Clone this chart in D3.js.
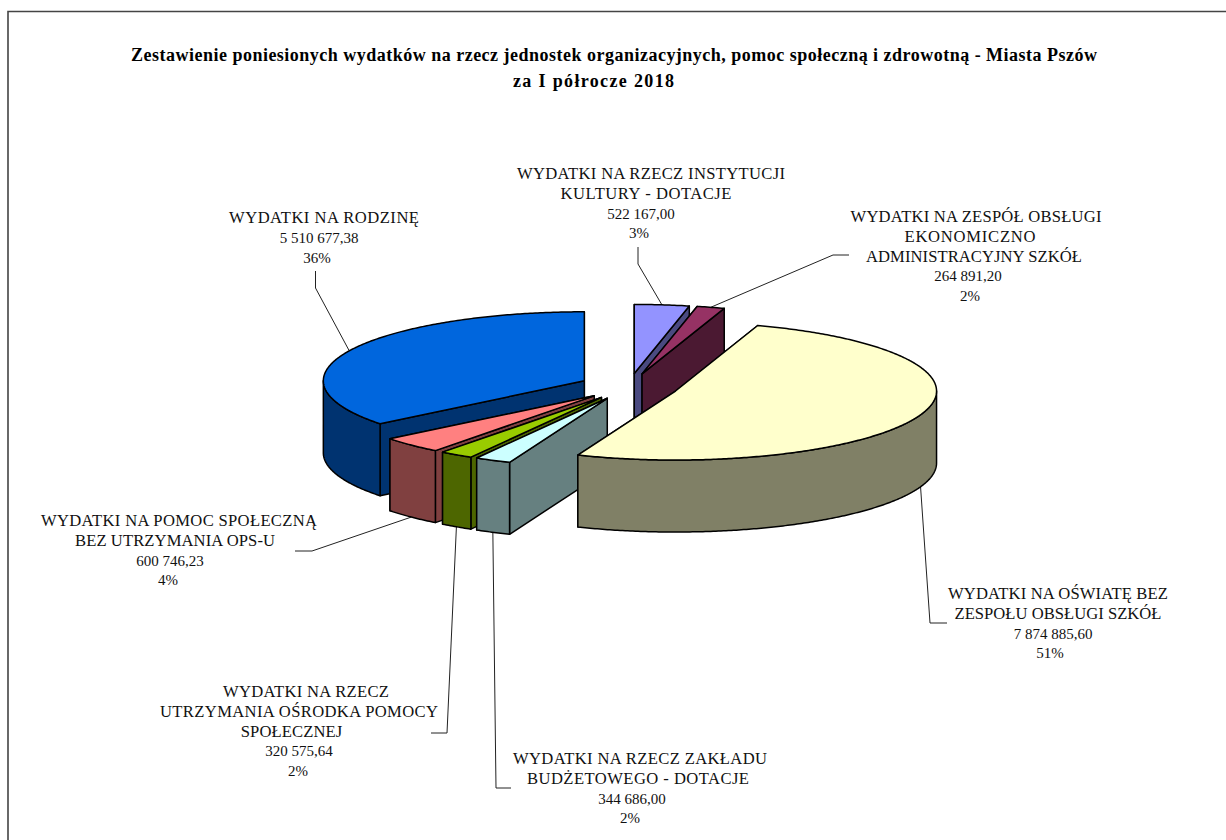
<!DOCTYPE html>
<html><head><meta charset="utf-8">
<script src="https://cdn.jsdelivr.net/npm/d3@7"></script>
<style>html,body{margin:0;padding:0;background:#fff;overflow:hidden}svg{display:block}text{font-family:"Liberation Serif",serif;fill:#111}</style>
</head><body><svg id="c" width="1226" height="840"></svg>
<script>
// --- data ---
const categories = [
  ["WYDATKI NA RZECZ INSTYTUCJI","KULTURY - DOTACJE"],
  ["WYDATKI NA ZESPÓŁ OBSŁUGI","EKONOMICZNO","ADMINISTRACYJNY SZKÓŁ"],
  ["WYDATKI NA OŚWIATĘ BEZ","ZESPOŁU OBSŁUGI SZKÓŁ"],
  ["WYDATKI NA RZECZ ZAKŁADU","BUDŻETOWEGO - DOTACJE"],
  ["WYDATKI NA RZECZ","UTRZYMANIA OŚRODKA POMOCY","SPOŁECZNEJ"],
  ["WYDATKI NA POMOC SPOŁECZNĄ","BEZ UTRZYMANIA OPS-U"],
  ["WYDATKI NA RODZINĘ"]
];
const values = [522167.00, 264891.20, 7874885.60, 344686.00, 320575.64, 600746.23, 5510677.38];
const titleLines = ["Zestawienie poniesionych wydatków na rzecz jednostek organizacyjnych, pomoc społeczną i zdrowotną - Miasta Pszów","za I półrocze 2018"];

// --- style ---
const topColors  = ["#9393FF","#963264","#FFFFCC","#CCFFFF","#99CC00","#FF8080","#0066DD"];
const sideColors = ["#4A4A80","#4B1932","#808066","#668080","#4D6600","#804040","#003370"];

// --- layout ---
const W = 1226, H = 840;
const center = {x:629, y:386.5}, rx = 261, ry = 69, depth = 72, explode = 0.19;
// per-slice leader: elbow and tail; per-slice label: first baseline, centre of each line, width of the name lines
const leaderElbow = [[638,264],[833,255],[930,623],[496,788],[447,733],[312,551],[315.5,288]];
const leaderEnd   = [[638,247],[849,255],[947,623],[511,788],[431,733],[295,551],[315.5,271]];
const labelTop    = [179,222,599,764,697,526,223];
const labelCentres = [
  [651,646,641,639],
  [976,970,974,968,970],
  [1058,1058,1053,1050],
  [640,638,632,630],
  [306,299,291.5,299,298],
  [179,175,170,168],
  [324,319,317]
];
const nameWidths = [[268,171],[251,131,216],[220,207],[254,222],[166,278,101.5],[276,200],[190]];
const titleCentres = [614,593.5], titleWidths = [966,161];
const nameFont = 16.6, numberFont = 15, titleFont = 18, lineStep = 19.8;

const svg = d3.select("#c");
svg.append("path").attr("d",`M8,${H}V11.5H${W}`).attr("fill","none").attr("stroke","#444").attr("stroke-width",1.6);

const g = svg.append("g").attr("class","title");
titleLines.forEach((t,i)=>g.append("text").attr("x",titleCentres[i]).attr("y",61+i*26)
  .attr("text-anchor","middle").attr("font-weight","bold").attr("font-size",titleFont)
  .attr("textLength",titleWidths[i]).attr("lengthAdjust","spacing").style("fill","#000").text(t));

const total = d3.sum(values);
const pl = d3.formatLocale({decimal:",",thousands:" ",grouping:[3],currency:["","zł"]});
const fmt = pl.format(",.2f"), pct = d3.format(".0%");

const slices = d3.pie().sort(null).startAngle(0).endAngle(2*Math.PI)(values);
slices.forEach((s,i)=>{
  s.i=i; s.mid=(s.startAngle+s.endAngle)/2;
  s.cx=center.x+explode*rx*Math.sin(s.mid);
  s.cy=center.y-explode*ry*Math.cos(s.mid);
});
const pt=(s,a,dz=0)=>[s.cx+rx*Math.sin(a), s.cy-ry*Math.cos(a)+dz];
const line=d3.line();
const arcPts=(s,a0,a1,dz=0)=>{
  const n=Math.max(2,Math.ceil((a1-a0)/0.01));
  return d3.range(n+1).map(k=>pt(s,a0+(a1-a0)*k/n,dz));
};
const stroke=(sel,fill)=>sel.attr("fill",fill).attr("stroke","#000").attr("stroke-width",1.5).attr("stroke-linejoin","round");
const radialWall=(s,a)=>line([[s.cx,s.cy],pt(s,a),pt(s,a,depth),[s.cx,s.cy+depth]])+"Z";

// leaders under the pie
const leaders=svg.append("g");
slices.forEach(s=>{
  const front=Math.cos(s.mid)<0;
  const start=pt(s,s.mid,front?depth:0);
  leaders.append("path").attr("d",line([start,leaderElbow[s.i],leaderEnd[s.i]]))
    .attr("fill","none").attr("stroke","#222").attr("stroke-width",1);
});

// painter's order: back to front
const order=[6,0,1,5,4,3,2];
const pie=svg.append("g");
order.forEach(i=>{
  const s=slices[i], side=sideColors[i];
  const right=s.mid<Math.PI;
  const walls=right?[s.startAngle,s.endAngle]:[s.endAngle,s.startAngle];
  walls.forEach(a=>stroke(pie.append("path").attr("d",radialWall(s,a)),side));
  const f0=Math.max(s.startAngle,Math.PI/2), f1=Math.min(s.endAngle,3*Math.PI/2);
  if(f1>f0){
    const up=arcPts(s,f0,f1), dn=arcPts(s,f0,f1,depth).reverse();
    stroke(pie.append("path").attr("d",line(up.concat(dn))+"Z"),side);
  }
  const top=[[s.cx,s.cy]].concat(arcPts(s,s.startAngle,s.endAngle));
  stroke(pie.append("path").attr("d",line(top)+"Z"),topColors[i]);
});

// labels
const labels=svg.append("g");
slices.forEach(s=>{
  const names=categories[s.i];
  const lines=names.concat([fmt(values[s.i]),pct(values[s.i]/total)]);
  lines.forEach((t,k)=>{
    const el=labels.append("text").attr("x",labelCentres[s.i][k]).attr("y",labelTop[s.i]+k*lineStep)
      .attr("text-anchor","middle").attr("font-size",k<names.length?nameFont:numberFont).text(t);
    if(k<names.length) el.attr("textLength",nameWidths[s.i][k]).attr("lengthAdjust","spacing");
  });
});
</script></body></html>
